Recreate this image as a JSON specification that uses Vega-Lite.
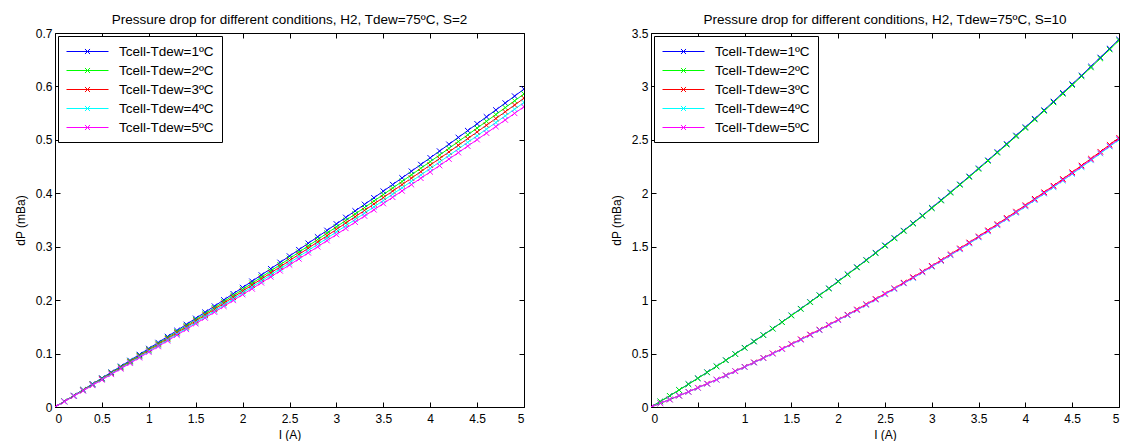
{
"$schema": "https://vega.github.io/schema/vega-lite/v6.json",
"padding": {"left": 13, "top": 12, "right": 0, "bottom": 0},
"spacing": 84,
"config": {
  "font": "Liberation Sans",
  "view": {"stroke": "#000", "strokeWidth": 1},
  "axis": {"grid": false, "domain": false, "tickColor": "#000", "tickSize": -5, "labelColor": "#000", "labelFontSize": 12, "labelPadding": 8, "titleFontSize": 12, "titleFontWeight": "normal", "titleColor": "#000", "format": "~g"},
  "title": {"fontSize": 13.5, "fontWeight": "normal", "color": "#000", "offset": 1},
  "legend": {"orient": "top-left", "offset": 3, "strokeColor": "#000", "fillColor": "#fff", "padding": 8, "labelFontSize": 13.5, "labelColor": "#000", "symbolType": "M-1,0L5,0M1.64,-0.36L2.36,0.36M1.64,0.36L2.36,-0.36", "symbolSize": 196, "symbolStrokeWidth": 1, "rowPadding": 5, "labelOffset": 38, "cornerRadius": 0}
},
"datasets": {
"left": [
{"s":"Tcell-Tdew=1ºC","I":0,"v":0},{"s":"Tcell-Tdew=1ºC","I":0.1,"v":0.0107},{"s":"Tcell-Tdew=1ºC","I":0.2,"v":0.0215},{"s":"Tcell-Tdew=1ºC","I":0.3,"v":0.0323},{"s":"Tcell-Tdew=1ºC","I":0.4,"v":0.0432},{"s":"Tcell-Tdew=1ºC","I":0.5,"v":0.0541},{"s":"Tcell-Tdew=1ºC","I":0.6,"v":0.0651},{"s":"Tcell-Tdew=1ºC","I":0.7,"v":0.0761},{"s":"Tcell-Tdew=1ºC","I":0.8,"v":0.0871},{"s":"Tcell-Tdew=1ºC","I":0.9,"v":0.0982},{"s":"Tcell-Tdew=1ºC","I":1,"v":0.1094},{"s":"Tcell-Tdew=1ºC","I":1.1,"v":0.1206},{"s":"Tcell-Tdew=1ºC","I":1.2,"v":0.1319},{"s":"Tcell-Tdew=1ºC","I":1.3,"v":0.1432},{"s":"Tcell-Tdew=1ºC","I":1.4,"v":0.1545},{"s":"Tcell-Tdew=1ºC","I":1.5,"v":0.1659},{"s":"Tcell-Tdew=1ºC","I":1.6,"v":0.1773},{"s":"Tcell-Tdew=1ºC","I":1.7,"v":0.1888},{"s":"Tcell-Tdew=1ºC","I":1.8,"v":0.2004},{"s":"Tcell-Tdew=1ºC","I":1.9,"v":0.212},{"s":"Tcell-Tdew=1ºC","I":2,"v":0.2236},{"s":"Tcell-Tdew=1ºC","I":2.1,"v":0.2353},{"s":"Tcell-Tdew=1ºC","I":2.2,"v":0.247},{"s":"Tcell-Tdew=1ºC","I":2.3,"v":0.2588},{"s":"Tcell-Tdew=1ºC","I":2.4,"v":0.2706},{"s":"Tcell-Tdew=1ºC","I":2.5,"v":0.2825},{"s":"Tcell-Tdew=1ºC","I":2.6,"v":0.2944},{"s":"Tcell-Tdew=1ºC","I":2.7,"v":0.3064},{"s":"Tcell-Tdew=1ºC","I":2.8,"v":0.3184},{"s":"Tcell-Tdew=1ºC","I":2.9,"v":0.3305},{"s":"Tcell-Tdew=1ºC","I":3,"v":0.3426},{"s":"Tcell-Tdew=1ºC","I":3.1,"v":0.3548},{"s":"Tcell-Tdew=1ºC","I":3.2,"v":0.367},{"s":"Tcell-Tdew=1ºC","I":3.3,"v":0.3792},{"s":"Tcell-Tdew=1ºC","I":3.4,"v":0.3915},{"s":"Tcell-Tdew=1ºC","I":3.5,"v":0.4039},{"s":"Tcell-Tdew=1ºC","I":3.6,"v":0.4163},{"s":"Tcell-Tdew=1ºC","I":3.7,"v":0.4288},{"s":"Tcell-Tdew=1ºC","I":3.8,"v":0.4413},{"s":"Tcell-Tdew=1ºC","I":3.9,"v":0.4538},{"s":"Tcell-Tdew=1ºC","I":4,"v":0.4664},{"s":"Tcell-Tdew=1ºC","I":4.1,"v":0.479},{"s":"Tcell-Tdew=1ºC","I":4.2,"v":0.4917},{"s":"Tcell-Tdew=1ºC","I":4.3,"v":0.5045},{"s":"Tcell-Tdew=1ºC","I":4.4,"v":0.5173},{"s":"Tcell-Tdew=1ºC","I":4.5,"v":0.5301},{"s":"Tcell-Tdew=1ºC","I":4.6,"v":0.543},{"s":"Tcell-Tdew=1ºC","I":4.7,"v":0.5559},{"s":"Tcell-Tdew=1ºC","I":4.8,"v":0.5689},{"s":"Tcell-Tdew=1ºC","I":4.9,"v":0.5819},{"s":"Tcell-Tdew=1ºC","I":5,"v":0.595},
{"s":"Tcell-Tdew=2ºC","I":0,"v":0},{"s":"Tcell-Tdew=2ºC","I":0.1,"v":0.0105},{"s":"Tcell-Tdew=2ºC","I":0.2,"v":0.0211},{"s":"Tcell-Tdew=2ºC","I":0.3,"v":0.0318},{"s":"Tcell-Tdew=2ºC","I":0.4,"v":0.0425},{"s":"Tcell-Tdew=2ºC","I":0.5,"v":0.0532},{"s":"Tcell-Tdew=2ºC","I":0.6,"v":0.064},{"s":"Tcell-Tdew=2ºC","I":0.7,"v":0.0748},{"s":"Tcell-Tdew=2ºC","I":0.8,"v":0.0857},{"s":"Tcell-Tdew=2ºC","I":0.9,"v":0.0966},{"s":"Tcell-Tdew=2ºC","I":1,"v":0.1076},{"s":"Tcell-Tdew=2ºC","I":1.1,"v":0.1186},{"s":"Tcell-Tdew=2ºC","I":1.2,"v":0.1297},{"s":"Tcell-Tdew=2ºC","I":1.3,"v":0.1409},{"s":"Tcell-Tdew=2ºC","I":1.4,"v":0.152},{"s":"Tcell-Tdew=2ºC","I":1.5,"v":0.1632},{"s":"Tcell-Tdew=2ºC","I":1.6,"v":0.1744},{"s":"Tcell-Tdew=2ºC","I":1.7,"v":0.1857},{"s":"Tcell-Tdew=2ºC","I":1.8,"v":0.1972},{"s":"Tcell-Tdew=2ºC","I":1.9,"v":0.2086},{"s":"Tcell-Tdew=2ºC","I":2,"v":0.22},{"s":"Tcell-Tdew=2ºC","I":2.1,"v":0.2315},{"s":"Tcell-Tdew=2ºC","I":2.2,"v":0.243},{"s":"Tcell-Tdew=2ºC","I":2.3,"v":0.2547},{"s":"Tcell-Tdew=2ºC","I":2.4,"v":0.2663},{"s":"Tcell-Tdew=2ºC","I":2.5,"v":0.278},{"s":"Tcell-Tdew=2ºC","I":2.6,"v":0.2897},{"s":"Tcell-Tdew=2ºC","I":2.7,"v":0.3015},{"s":"Tcell-Tdew=2ºC","I":2.8,"v":0.3134},{"s":"Tcell-Tdew=2ºC","I":2.9,"v":0.3253},{"s":"Tcell-Tdew=2ºC","I":3,"v":0.3372},{"s":"Tcell-Tdew=2ºC","I":3.1,"v":0.3492},{"s":"Tcell-Tdew=2ºC","I":3.2,"v":0.3612},{"s":"Tcell-Tdew=2ºC","I":3.3,"v":0.3733},{"s":"Tcell-Tdew=2ºC","I":3.4,"v":0.3854},{"s":"Tcell-Tdew=2ºC","I":3.5,"v":0.3976},{"s":"Tcell-Tdew=2ºC","I":3.6,"v":0.4098},{"s":"Tcell-Tdew=2ºC","I":3.7,"v":0.4221},{"s":"Tcell-Tdew=2ºC","I":3.8,"v":0.4345},{"s":"Tcell-Tdew=2ºC","I":3.9,"v":0.4468},{"s":"Tcell-Tdew=2ºC","I":4,"v":0.4592},{"s":"Tcell-Tdew=2ºC","I":4.1,"v":0.4716},{"s":"Tcell-Tdew=2ºC","I":4.2,"v":0.4841},{"s":"Tcell-Tdew=2ºC","I":4.3,"v":0.4968},{"s":"Tcell-Tdew=2ºC","I":4.4,"v":0.5094},{"s":"Tcell-Tdew=2ºC","I":4.5,"v":0.522},{"s":"Tcell-Tdew=2ºC","I":4.6,"v":0.5347},{"s":"Tcell-Tdew=2ºC","I":4.7,"v":0.5474},{"s":"Tcell-Tdew=2ºC","I":4.8,"v":0.5603},{"s":"Tcell-Tdew=2ºC","I":4.9,"v":0.5731},{"s":"Tcell-Tdew=2ºC","I":5,"v":0.586},
{"s":"Tcell-Tdew=3ºC","I":0,"v":0},{"s":"Tcell-Tdew=3ºC","I":0.1,"v":0.0104},{"s":"Tcell-Tdew=3ºC","I":0.2,"v":0.0208},{"s":"Tcell-Tdew=3ºC","I":0.3,"v":0.0313},{"s":"Tcell-Tdew=3ºC","I":0.4,"v":0.0418},{"s":"Tcell-Tdew=3ºC","I":0.5,"v":0.0524},{"s":"Tcell-Tdew=3ºC","I":0.6,"v":0.0631},{"s":"Tcell-Tdew=3ºC","I":0.7,"v":0.0737},{"s":"Tcell-Tdew=3ºC","I":0.8,"v":0.0844},{"s":"Tcell-Tdew=3ºC","I":0.9,"v":0.0951},{"s":"Tcell-Tdew=3ºC","I":1,"v":0.106},{"s":"Tcell-Tdew=3ºC","I":1.1,"v":0.1169},{"s":"Tcell-Tdew=3ºC","I":1.2,"v":0.1278},{"s":"Tcell-Tdew=3ºC","I":1.3,"v":0.1388},{"s":"Tcell-Tdew=3ºC","I":1.4,"v":0.1497},{"s":"Tcell-Tdew=3ºC","I":1.5,"v":0.1608},{"s":"Tcell-Tdew=3ºC","I":1.6,"v":0.1719},{"s":"Tcell-Tdew=3ºC","I":1.7,"v":0.183},{"s":"Tcell-Tdew=3ºC","I":1.8,"v":0.1943},{"s":"Tcell-Tdew=3ºC","I":1.9,"v":0.2055},{"s":"Tcell-Tdew=3ºC","I":2,"v":0.2168},{"s":"Tcell-Tdew=3ºC","I":2.1,"v":0.2282},{"s":"Tcell-Tdew=3ºC","I":2.2,"v":0.2395},{"s":"Tcell-Tdew=3ºC","I":2.3,"v":0.251},{"s":"Tcell-Tdew=3ºC","I":2.4,"v":0.2624},{"s":"Tcell-Tdew=3ºC","I":2.5,"v":0.274},{"s":"Tcell-Tdew=3ºC","I":2.6,"v":0.2856},{"s":"Tcell-Tdew=3ºC","I":2.7,"v":0.2972},{"s":"Tcell-Tdew=3ºC","I":2.8,"v":0.3089},{"s":"Tcell-Tdew=3ºC","I":2.9,"v":0.3206},{"s":"Tcell-Tdew=3ºC","I":3,"v":0.3324},{"s":"Tcell-Tdew=3ºC","I":3.1,"v":0.3443},{"s":"Tcell-Tdew=3ºC","I":3.2,"v":0.3561},{"s":"Tcell-Tdew=3ºC","I":3.3,"v":0.368},{"s":"Tcell-Tdew=3ºC","I":3.4,"v":0.3799},{"s":"Tcell-Tdew=3ºC","I":3.5,"v":0.392},{"s":"Tcell-Tdew=3ºC","I":3.6,"v":0.4041},{"s":"Tcell-Tdew=3ºC","I":3.7,"v":0.4162},{"s":"Tcell-Tdew=3ºC","I":3.8,"v":0.4284},{"s":"Tcell-Tdew=3ºC","I":3.9,"v":0.4405},{"s":"Tcell-Tdew=3ºC","I":4,"v":0.4528},{"s":"Tcell-Tdew=3ºC","I":4.1,"v":0.4651},{"s":"Tcell-Tdew=3ºC","I":4.2,"v":0.4774},{"s":"Tcell-Tdew=3ºC","I":4.3,"v":0.4899},{"s":"Tcell-Tdew=3ºC","I":4.4,"v":0.5023},{"s":"Tcell-Tdew=3ºC","I":4.5,"v":0.5148},{"s":"Tcell-Tdew=3ºC","I":4.6,"v":0.5274},{"s":"Tcell-Tdew=3ºC","I":4.7,"v":0.5399},{"s":"Tcell-Tdew=3ºC","I":4.8,"v":0.5526},{"s":"Tcell-Tdew=3ºC","I":4.9,"v":0.5652},{"s":"Tcell-Tdew=3ºC","I":5,"v":0.578},
{"s":"Tcell-Tdew=4ºC","I":0,"v":0},{"s":"Tcell-Tdew=4ºC","I":0.1,"v":0.0102},{"s":"Tcell-Tdew=4ºC","I":0.2,"v":0.0205},{"s":"Tcell-Tdew=4ºC","I":0.3,"v":0.0308},{"s":"Tcell-Tdew=4ºC","I":0.4,"v":0.0412},{"s":"Tcell-Tdew=4ºC","I":0.5,"v":0.0516},{"s":"Tcell-Tdew=4ºC","I":0.6,"v":0.0621},{"s":"Tcell-Tdew=4ºC","I":0.7,"v":0.0726},{"s":"Tcell-Tdew=4ºC","I":0.8,"v":0.0831},{"s":"Tcell-Tdew=4ºC","I":0.9,"v":0.0937},{"s":"Tcell-Tdew=4ºC","I":1,"v":0.1044},{"s":"Tcell-Tdew=4ºC","I":1.1,"v":0.1151},{"s":"Tcell-Tdew=4ºC","I":1.2,"v":0.1259},{"s":"Tcell-Tdew=4ºC","I":1.3,"v":0.1367},{"s":"Tcell-Tdew=4ºC","I":1.4,"v":0.1475},{"s":"Tcell-Tdew=4ºC","I":1.5,"v":0.1584},{"s":"Tcell-Tdew=4ºC","I":1.6,"v":0.1693},{"s":"Tcell-Tdew=4ºC","I":1.7,"v":0.1803},{"s":"Tcell-Tdew=4ºC","I":1.8,"v":0.1914},{"s":"Tcell-Tdew=4ºC","I":1.9,"v":0.2025},{"s":"Tcell-Tdew=4ºC","I":2,"v":0.2136},{"s":"Tcell-Tdew=4ºC","I":2.1,"v":0.2248},{"s":"Tcell-Tdew=4ºC","I":2.2,"v":0.236},{"s":"Tcell-Tdew=4ºC","I":2.3,"v":0.2473},{"s":"Tcell-Tdew=4ºC","I":2.4,"v":0.2586},{"s":"Tcell-Tdew=4ºC","I":2.5,"v":0.27},{"s":"Tcell-Tdew=4ºC","I":2.6,"v":0.2814},{"s":"Tcell-Tdew=4ºC","I":2.7,"v":0.2929},{"s":"Tcell-Tdew=4ºC","I":2.8,"v":0.3044},{"s":"Tcell-Tdew=4ºC","I":2.9,"v":0.316},{"s":"Tcell-Tdew=4ºC","I":3,"v":0.3276},{"s":"Tcell-Tdew=4ºC","I":3.1,"v":0.3393},{"s":"Tcell-Tdew=4ºC","I":3.2,"v":0.351},{"s":"Tcell-Tdew=4ºC","I":3.3,"v":0.3627},{"s":"Tcell-Tdew=4ºC","I":3.4,"v":0.3745},{"s":"Tcell-Tdew=4ºC","I":3.5,"v":0.3864},{"s":"Tcell-Tdew=4ºC","I":3.6,"v":0.3983},{"s":"Tcell-Tdew=4ºC","I":3.7,"v":0.4103},{"s":"Tcell-Tdew=4ºC","I":3.8,"v":0.4223},{"s":"Tcell-Tdew=4ºC","I":3.9,"v":0.4343},{"s":"Tcell-Tdew=4ºC","I":4,"v":0.4464},{"s":"Tcell-Tdew=4ºC","I":4.1,"v":0.4585},{"s":"Tcell-Tdew=4ºC","I":4.2,"v":0.4707},{"s":"Tcell-Tdew=4ºC","I":4.3,"v":0.483},{"s":"Tcell-Tdew=4ºC","I":4.4,"v":0.4953},{"s":"Tcell-Tdew=4ºC","I":4.5,"v":0.5076},{"s":"Tcell-Tdew=4ºC","I":4.6,"v":0.52},{"s":"Tcell-Tdew=4ºC","I":4.7,"v":0.5324},{"s":"Tcell-Tdew=4ºC","I":4.8,"v":0.5449},{"s":"Tcell-Tdew=4ºC","I":4.9,"v":0.5574},{"s":"Tcell-Tdew=4ºC","I":5,"v":0.57},
{"s":"Tcell-Tdew=5ºC","I":0,"v":0},{"s":"Tcell-Tdew=5ºC","I":0.1,"v":0.01},{"s":"Tcell-Tdew=5ºC","I":0.2,"v":0.0202},{"s":"Tcell-Tdew=5ºC","I":0.3,"v":0.0303},{"s":"Tcell-Tdew=5ºC","I":0.4,"v":0.0406},{"s":"Tcell-Tdew=5ºC","I":0.5,"v":0.0508},{"s":"Tcell-Tdew=5ºC","I":0.6,"v":0.0611},{"s":"Tcell-Tdew=5ºC","I":0.7,"v":0.0715},{"s":"Tcell-Tdew=5ºC","I":0.8,"v":0.0818},{"s":"Tcell-Tdew=5ºC","I":0.9,"v":0.0923},{"s":"Tcell-Tdew=5ºC","I":1,"v":0.1028},{"s":"Tcell-Tdew=5ºC","I":1.1,"v":0.1133},{"s":"Tcell-Tdew=5ºC","I":1.2,"v":0.124},{"s":"Tcell-Tdew=5ºC","I":1.3,"v":0.1346},{"s":"Tcell-Tdew=5ºC","I":1.4,"v":0.1453},{"s":"Tcell-Tdew=5ºC","I":1.5,"v":0.156},{"s":"Tcell-Tdew=5ºC","I":1.6,"v":0.1667},{"s":"Tcell-Tdew=5ºC","I":1.7,"v":0.1776},{"s":"Tcell-Tdew=5ºC","I":1.8,"v":0.1885},{"s":"Tcell-Tdew=5ºC","I":1.9,"v":0.1995},{"s":"Tcell-Tdew=5ºC","I":2,"v":0.2104},{"s":"Tcell-Tdew=5ºC","I":2.1,"v":0.2214},{"s":"Tcell-Tdew=5ºC","I":2.2,"v":0.2325},{"s":"Tcell-Tdew=5ºC","I":2.3,"v":0.2436},{"s":"Tcell-Tdew=5ºC","I":2.4,"v":0.2548},{"s":"Tcell-Tdew=5ºC","I":2.5,"v":0.266},{"s":"Tcell-Tdew=5ºC","I":2.6,"v":0.2772},{"s":"Tcell-Tdew=5ºC","I":2.7,"v":0.2886},{"s":"Tcell-Tdew=5ºC","I":2.8,"v":0.2999},{"s":"Tcell-Tdew=5ºC","I":2.9,"v":0.3114},{"s":"Tcell-Tdew=5ºC","I":3,"v":0.3228},{"s":"Tcell-Tdew=5ºC","I":3.1,"v":0.3343},{"s":"Tcell-Tdew=5ºC","I":3.2,"v":0.3459},{"s":"Tcell-Tdew=5ºC","I":3.3,"v":0.3574},{"s":"Tcell-Tdew=5ºC","I":3.4,"v":0.3691},{"s":"Tcell-Tdew=5ºC","I":3.5,"v":0.3808},{"s":"Tcell-Tdew=5ºC","I":3.6,"v":0.3925},{"s":"Tcell-Tdew=5ºC","I":3.7,"v":0.4044},{"s":"Tcell-Tdew=5ºC","I":3.8,"v":0.4162},{"s":"Tcell-Tdew=5ºC","I":3.9,"v":0.4281},{"s":"Tcell-Tdew=5ºC","I":4,"v":0.44},{"s":"Tcell-Tdew=5ºC","I":4.1,"v":0.4519},{"s":"Tcell-Tdew=5ºC","I":4.2,"v":0.464},{"s":"Tcell-Tdew=5ºC","I":4.3,"v":0.4761},{"s":"Tcell-Tdew=5ºC","I":4.4,"v":0.4883},{"s":"Tcell-Tdew=5ºC","I":4.5,"v":0.5004},{"s":"Tcell-Tdew=5ºC","I":4.6,"v":0.5126},{"s":"Tcell-Tdew=5ºC","I":4.7,"v":0.5249},{"s":"Tcell-Tdew=5ºC","I":4.8,"v":0.5372},{"s":"Tcell-Tdew=5ºC","I":4.9,"v":0.5496},{"s":"Tcell-Tdew=5ºC","I":5,"v":0.562}
],
"right": [
{"s":"Tcell-Tdew=1ºC","I":0,"v":0},{"s":"Tcell-Tdew=1ºC","I":0.1,"v":0.052},{"s":"Tcell-Tdew=1ºC","I":0.2,"v":0.105},{"s":"Tcell-Tdew=1ºC","I":0.3,"v":0.159},{"s":"Tcell-Tdew=1ºC","I":0.4,"v":0.214},{"s":"Tcell-Tdew=1ºC","I":0.5,"v":0.269},{"s":"Tcell-Tdew=1ºC","I":0.6,"v":0.325},{"s":"Tcell-Tdew=1ºC","I":0.7,"v":0.381},{"s":"Tcell-Tdew=1ºC","I":0.8,"v":0.438},{"s":"Tcell-Tdew=1ºC","I":0.9,"v":0.496},{"s":"Tcell-Tdew=1ºC","I":1,"v":0.555},{"s":"Tcell-Tdew=1ºC","I":1.1,"v":0.614},{"s":"Tcell-Tdew=1ºC","I":1.2,"v":0.674},{"s":"Tcell-Tdew=1ºC","I":1.3,"v":0.734},{"s":"Tcell-Tdew=1ºC","I":1.4,"v":0.795},{"s":"Tcell-Tdew=1ºC","I":1.5,"v":0.858},{"s":"Tcell-Tdew=1ºC","I":1.6,"v":0.92},{"s":"Tcell-Tdew=1ºC","I":1.7,"v":0.983},{"s":"Tcell-Tdew=1ºC","I":1.8,"v":1.047},{"s":"Tcell-Tdew=1ºC","I":1.9,"v":1.111},{"s":"Tcell-Tdew=1ºC","I":2,"v":1.177},{"s":"Tcell-Tdew=1ºC","I":2.1,"v":1.243},{"s":"Tcell-Tdew=1ºC","I":2.2,"v":1.309},{"s":"Tcell-Tdew=1ºC","I":2.3,"v":1.376},{"s":"Tcell-Tdew=1ºC","I":2.4,"v":1.443},{"s":"Tcell-Tdew=1ºC","I":2.5,"v":1.513},{"s":"Tcell-Tdew=1ºC","I":2.6,"v":1.582},{"s":"Tcell-Tdew=1ºC","I":2.7,"v":1.651},{"s":"Tcell-Tdew=1ºC","I":2.8,"v":1.721},{"s":"Tcell-Tdew=1ºC","I":2.9,"v":1.792},{"s":"Tcell-Tdew=1ºC","I":3,"v":1.865},{"s":"Tcell-Tdew=1ºC","I":3.1,"v":1.937},{"s":"Tcell-Tdew=1ºC","I":3.2,"v":2.01},{"s":"Tcell-Tdew=1ºC","I":3.3,"v":2.084},{"s":"Tcell-Tdew=1ºC","I":3.4,"v":2.158},{"s":"Tcell-Tdew=1ºC","I":3.5,"v":2.234},{"s":"Tcell-Tdew=1ºC","I":3.6,"v":2.309},{"s":"Tcell-Tdew=1ºC","I":3.7,"v":2.386},{"s":"Tcell-Tdew=1ºC","I":3.8,"v":2.462},{"s":"Tcell-Tdew=1ºC","I":3.9,"v":2.541},{"s":"Tcell-Tdew=1ºC","I":4,"v":2.619},{"s":"Tcell-Tdew=1ºC","I":4.1,"v":2.698},{"s":"Tcell-Tdew=1ºC","I":4.2,"v":2.778},{"s":"Tcell-Tdew=1ºC","I":4.3,"v":2.859},{"s":"Tcell-Tdew=1ºC","I":4.4,"v":2.94},{"s":"Tcell-Tdew=1ºC","I":4.5,"v":3.021},{"s":"Tcell-Tdew=1ºC","I":4.6,"v":3.103},{"s":"Tcell-Tdew=1ºC","I":4.7,"v":3.187},{"s":"Tcell-Tdew=1ºC","I":4.8,"v":3.271},{"s":"Tcell-Tdew=1ºC","I":4.9,"v":3.355},{"s":"Tcell-Tdew=1ºC","I":5,"v":3.44},
{"s":"Tcell-Tdew=2ºC","I":0,"v":0},{"s":"Tcell-Tdew=2ºC","I":0.1,"v":0.052},{"s":"Tcell-Tdew=2ºC","I":0.2,"v":0.105},{"s":"Tcell-Tdew=2ºC","I":0.3,"v":0.159},{"s":"Tcell-Tdew=2ºC","I":0.4,"v":0.213},{"s":"Tcell-Tdew=2ºC","I":0.5,"v":0.268},{"s":"Tcell-Tdew=2ºC","I":0.6,"v":0.324},{"s":"Tcell-Tdew=2ºC","I":0.7,"v":0.38},{"s":"Tcell-Tdew=2ºC","I":0.8,"v":0.437},{"s":"Tcell-Tdew=2ºC","I":0.9,"v":0.495},{"s":"Tcell-Tdew=2ºC","I":1,"v":0.553},{"s":"Tcell-Tdew=2ºC","I":1.1,"v":0.612},{"s":"Tcell-Tdew=2ºC","I":1.2,"v":0.672},{"s":"Tcell-Tdew=2ºC","I":1.3,"v":0.732},{"s":"Tcell-Tdew=2ºC","I":1.4,"v":0.793},{"s":"Tcell-Tdew=2ºC","I":1.5,"v":0.855},{"s":"Tcell-Tdew=2ºC","I":1.6,"v":0.917},{"s":"Tcell-Tdew=2ºC","I":1.7,"v":0.98},{"s":"Tcell-Tdew=2ºC","I":1.8,"v":1.044},{"s":"Tcell-Tdew=2ºC","I":1.9,"v":1.108},{"s":"Tcell-Tdew=2ºC","I":2,"v":1.173},{"s":"Tcell-Tdew=2ºC","I":2.1,"v":1.239},{"s":"Tcell-Tdew=2ºC","I":2.2,"v":1.305},{"s":"Tcell-Tdew=2ºC","I":2.3,"v":1.372},{"s":"Tcell-Tdew=2ºC","I":2.4,"v":1.439},{"s":"Tcell-Tdew=2ºC","I":2.5,"v":1.508},{"s":"Tcell-Tdew=2ºC","I":2.6,"v":1.577},{"s":"Tcell-Tdew=2ºC","I":2.7,"v":1.646},{"s":"Tcell-Tdew=2ºC","I":2.8,"v":1.716},{"s":"Tcell-Tdew=2ºC","I":2.9,"v":1.787},{"s":"Tcell-Tdew=2ºC","I":3,"v":1.859},{"s":"Tcell-Tdew=2ºC","I":3.1,"v":1.931},{"s":"Tcell-Tdew=2ºC","I":3.2,"v":2.004},{"s":"Tcell-Tdew=2ºC","I":3.3,"v":2.078},{"s":"Tcell-Tdew=2ºC","I":3.4,"v":2.152},{"s":"Tcell-Tdew=2ºC","I":3.5,"v":2.227},{"s":"Tcell-Tdew=2ºC","I":3.6,"v":2.302},{"s":"Tcell-Tdew=2ºC","I":3.7,"v":2.379},{"s":"Tcell-Tdew=2ºC","I":3.8,"v":2.455},{"s":"Tcell-Tdew=2ºC","I":3.9,"v":2.533},{"s":"Tcell-Tdew=2ºC","I":4,"v":2.611},{"s":"Tcell-Tdew=2ºC","I":4.1,"v":2.69},{"s":"Tcell-Tdew=2ºC","I":4.2,"v":2.77},{"s":"Tcell-Tdew=2ºC","I":4.3,"v":2.85},{"s":"Tcell-Tdew=2ºC","I":4.4,"v":2.931},{"s":"Tcell-Tdew=2ºC","I":4.5,"v":3.012},{"s":"Tcell-Tdew=2ºC","I":4.6,"v":3.094},{"s":"Tcell-Tdew=2ºC","I":4.7,"v":3.177},{"s":"Tcell-Tdew=2ºC","I":4.8,"v":3.261},{"s":"Tcell-Tdew=2ºC","I":4.9,"v":3.345},{"s":"Tcell-Tdew=2ºC","I":5,"v":3.43},
{"s":"Tcell-Tdew=3ºC","I":0,"v":0},{"s":"Tcell-Tdew=3ºC","I":0.1,"v":0.035},{"s":"Tcell-Tdew=3ºC","I":0.2,"v":0.07},{"s":"Tcell-Tdew=3ºC","I":0.3,"v":0.106},{"s":"Tcell-Tdew=3ºC","I":0.4,"v":0.143},{"s":"Tcell-Tdew=3ºC","I":0.5,"v":0.181},{"s":"Tcell-Tdew=3ºC","I":0.6,"v":0.219},{"s":"Tcell-Tdew=3ºC","I":0.7,"v":0.257},{"s":"Tcell-Tdew=3ºC","I":0.8,"v":0.296},{"s":"Tcell-Tdew=3ºC","I":0.9,"v":0.336},{"s":"Tcell-Tdew=3ºC","I":1,"v":0.377},{"s":"Tcell-Tdew=3ºC","I":1.1,"v":0.418},{"s":"Tcell-Tdew=3ºC","I":1.2,"v":0.46},{"s":"Tcell-Tdew=3ºC","I":1.3,"v":0.502},{"s":"Tcell-Tdew=3ºC","I":1.4,"v":0.545},{"s":"Tcell-Tdew=3ºC","I":1.5,"v":0.589},{"s":"Tcell-Tdew=3ºC","I":1.6,"v":0.634},{"s":"Tcell-Tdew=3ºC","I":1.7,"v":0.679},{"s":"Tcell-Tdew=3ºC","I":1.8,"v":0.724},{"s":"Tcell-Tdew=3ºC","I":1.9,"v":0.77},{"s":"Tcell-Tdew=3ºC","I":2,"v":0.817},{"s":"Tcell-Tdew=3ºC","I":2.1,"v":0.864},{"s":"Tcell-Tdew=3ºC","I":2.2,"v":0.913},{"s":"Tcell-Tdew=3ºC","I":2.3,"v":0.962},{"s":"Tcell-Tdew=3ºC","I":2.4,"v":1.011},{"s":"Tcell-Tdew=3ºC","I":2.5,"v":1.061},{"s":"Tcell-Tdew=3ºC","I":2.6,"v":1.111},{"s":"Tcell-Tdew=3ºC","I":2.7,"v":1.164},{"s":"Tcell-Tdew=3ºC","I":2.8,"v":1.215},{"s":"Tcell-Tdew=3ºC","I":2.9,"v":1.268},{"s":"Tcell-Tdew=3ºC","I":3,"v":1.321},{"s":"Tcell-Tdew=3ºC","I":3.1,"v":1.374},{"s":"Tcell-Tdew=3ºC","I":3.2,"v":1.43},{"s":"Tcell-Tdew=3ºC","I":3.3,"v":1.485},{"s":"Tcell-Tdew=3ºC","I":3.4,"v":1.54},{"s":"Tcell-Tdew=3ºC","I":3.5,"v":1.597},{"s":"Tcell-Tdew=3ºC","I":3.6,"v":1.654},{"s":"Tcell-Tdew=3ºC","I":3.7,"v":1.712},{"s":"Tcell-Tdew=3ºC","I":3.8,"v":1.77},{"s":"Tcell-Tdew=3ºC","I":3.9,"v":1.829},{"s":"Tcell-Tdew=3ºC","I":4,"v":1.889},{"s":"Tcell-Tdew=3ºC","I":4.1,"v":1.949},{"s":"Tcell-Tdew=3ºC","I":4.2,"v":2.01},{"s":"Tcell-Tdew=3ºC","I":4.3,"v":2.071},{"s":"Tcell-Tdew=3ºC","I":4.4,"v":2.134},{"s":"Tcell-Tdew=3ºC","I":4.5,"v":2.197},{"s":"Tcell-Tdew=3ºC","I":4.6,"v":2.26},{"s":"Tcell-Tdew=3ºC","I":4.7,"v":2.324},{"s":"Tcell-Tdew=3ºC","I":4.8,"v":2.389},{"s":"Tcell-Tdew=3ºC","I":4.9,"v":2.454},{"s":"Tcell-Tdew=3ºC","I":5,"v":2.52},
{"s":"Tcell-Tdew=4ºC","I":0,"v":0},{"s":"Tcell-Tdew=4ºC","I":0.1,"v":0.035},{"s":"Tcell-Tdew=4ºC","I":0.2,"v":0.07},{"s":"Tcell-Tdew=4ºC","I":0.3,"v":0.106},{"s":"Tcell-Tdew=4ºC","I":0.4,"v":0.142},{"s":"Tcell-Tdew=4ºC","I":0.5,"v":0.179},{"s":"Tcell-Tdew=4ºC","I":0.6,"v":0.217},{"s":"Tcell-Tdew=4ºC","I":0.7,"v":0.255},{"s":"Tcell-Tdew=4ºC","I":0.8,"v":0.294},{"s":"Tcell-Tdew=4ºC","I":0.9,"v":0.334},{"s":"Tcell-Tdew=4ºC","I":1,"v":0.374},{"s":"Tcell-Tdew=4ºC","I":1.1,"v":0.415},{"s":"Tcell-Tdew=4ºC","I":1.2,"v":0.457},{"s":"Tcell-Tdew=4ºC","I":1.3,"v":0.499},{"s":"Tcell-Tdew=4ºC","I":1.4,"v":0.541},{"s":"Tcell-Tdew=4ºC","I":1.5,"v":0.585},{"s":"Tcell-Tdew=4ºC","I":1.6,"v":0.629},{"s":"Tcell-Tdew=4ºC","I":1.7,"v":0.674},{"s":"Tcell-Tdew=4ºC","I":1.8,"v":0.719},{"s":"Tcell-Tdew=4ºC","I":1.9,"v":0.765},{"s":"Tcell-Tdew=4ºC","I":2,"v":0.812},{"s":"Tcell-Tdew=4ºC","I":2.1,"v":0.858},{"s":"Tcell-Tdew=4ºC","I":2.2,"v":0.906},{"s":"Tcell-Tdew=4ºC","I":2.3,"v":0.955},{"s":"Tcell-Tdew=4ºC","I":2.4,"v":1.004},{"s":"Tcell-Tdew=4ºC","I":2.5,"v":1.054},{"s":"Tcell-Tdew=4ºC","I":2.6,"v":1.104},{"s":"Tcell-Tdew=4ºC","I":2.7,"v":1.156},{"s":"Tcell-Tdew=4ºC","I":2.8,"v":1.206},{"s":"Tcell-Tdew=4ºC","I":2.9,"v":1.259},{"s":"Tcell-Tdew=4ºC","I":3,"v":1.312},{"s":"Tcell-Tdew=4ºC","I":3.1,"v":1.365},{"s":"Tcell-Tdew=4ºC","I":3.2,"v":1.42},{"s":"Tcell-Tdew=4ºC","I":3.3,"v":1.475},{"s":"Tcell-Tdew=4ºC","I":3.4,"v":1.529},{"s":"Tcell-Tdew=4ºC","I":3.5,"v":1.586},{"s":"Tcell-Tdew=4ºC","I":3.6,"v":1.642},{"s":"Tcell-Tdew=4ºC","I":3.7,"v":1.7},{"s":"Tcell-Tdew=4ºC","I":3.8,"v":1.758},{"s":"Tcell-Tdew=4ºC","I":3.9,"v":1.817},{"s":"Tcell-Tdew=4ºC","I":4,"v":1.875},{"s":"Tcell-Tdew=4ºC","I":4.1,"v":1.935},{"s":"Tcell-Tdew=4ºC","I":4.2,"v":1.996},{"s":"Tcell-Tdew=4ºC","I":4.3,"v":2.057},{"s":"Tcell-Tdew=4ºC","I":4.4,"v":2.119},{"s":"Tcell-Tdew=4ºC","I":4.5,"v":2.181},{"s":"Tcell-Tdew=4ºC","I":4.6,"v":2.244},{"s":"Tcell-Tdew=4ºC","I":4.7,"v":2.308},{"s":"Tcell-Tdew=4ºC","I":4.8,"v":2.372},{"s":"Tcell-Tdew=4ºC","I":4.9,"v":2.437},{"s":"Tcell-Tdew=4ºC","I":5,"v":2.502},
{"s":"Tcell-Tdew=5ºC","I":0,"v":0},{"s":"Tcell-Tdew=5ºC","I":0.1,"v":0.035},{"s":"Tcell-Tdew=5ºC","I":0.2,"v":0.07},{"s":"Tcell-Tdew=5ºC","I":0.3,"v":0.106},{"s":"Tcell-Tdew=5ºC","I":0.4,"v":0.142},{"s":"Tcell-Tdew=5ºC","I":0.5,"v":0.18},{"s":"Tcell-Tdew=5ºC","I":0.6,"v":0.218},{"s":"Tcell-Tdew=5ºC","I":0.7,"v":0.256},{"s":"Tcell-Tdew=5ºC","I":0.8,"v":0.295},{"s":"Tcell-Tdew=5ºC","I":0.9,"v":0.335},{"s":"Tcell-Tdew=5ºC","I":1,"v":0.375},{"s":"Tcell-Tdew=5ºC","I":1.1,"v":0.416},{"s":"Tcell-Tdew=5ºC","I":1.2,"v":0.458},{"s":"Tcell-Tdew=5ºC","I":1.3,"v":0.5},{"s":"Tcell-Tdew=5ºC","I":1.4,"v":0.543},{"s":"Tcell-Tdew=5ºC","I":1.5,"v":0.587},{"s":"Tcell-Tdew=5ºC","I":1.6,"v":0.631},{"s":"Tcell-Tdew=5ºC","I":1.7,"v":0.676},{"s":"Tcell-Tdew=5ºC","I":1.8,"v":0.721},{"s":"Tcell-Tdew=5ºC","I":1.9,"v":0.767},{"s":"Tcell-Tdew=5ºC","I":2,"v":0.814},{"s":"Tcell-Tdew=5ºC","I":2.1,"v":0.861},{"s":"Tcell-Tdew=5ºC","I":2.2,"v":0.909},{"s":"Tcell-Tdew=5ºC","I":2.3,"v":0.958},{"s":"Tcell-Tdew=5ºC","I":2.4,"v":1.007},{"s":"Tcell-Tdew=5ºC","I":2.5,"v":1.057},{"s":"Tcell-Tdew=5ºC","I":2.6,"v":1.107},{"s":"Tcell-Tdew=5ºC","I":2.7,"v":1.159},{"s":"Tcell-Tdew=5ºC","I":2.8,"v":1.21},{"s":"Tcell-Tdew=5ºC","I":2.9,"v":1.263},{"s":"Tcell-Tdew=5ºC","I":3,"v":1.316},{"s":"Tcell-Tdew=5ºC","I":3.1,"v":1.369},{"s":"Tcell-Tdew=5ºC","I":3.2,"v":1.424},{"s":"Tcell-Tdew=5ºC","I":3.3,"v":1.479},{"s":"Tcell-Tdew=5ºC","I":3.4,"v":1.534},{"s":"Tcell-Tdew=5ºC","I":3.5,"v":1.591},{"s":"Tcell-Tdew=5ºC","I":3.6,"v":1.647},{"s":"Tcell-Tdew=5ºC","I":3.7,"v":1.705},{"s":"Tcell-Tdew=5ºC","I":3.8,"v":1.763},{"s":"Tcell-Tdew=5ºC","I":3.9,"v":1.822},{"s":"Tcell-Tdew=5ºC","I":4,"v":1.881},{"s":"Tcell-Tdew=5ºC","I":4.1,"v":1.941},{"s":"Tcell-Tdew=5ºC","I":4.2,"v":2.002},{"s":"Tcell-Tdew=5ºC","I":4.3,"v":2.063},{"s":"Tcell-Tdew=5ºC","I":4.4,"v":2.125},{"s":"Tcell-Tdew=5ºC","I":4.5,"v":2.188},{"s":"Tcell-Tdew=5ºC","I":4.6,"v":2.251},{"s":"Tcell-Tdew=5ºC","I":4.7,"v":2.315},{"s":"Tcell-Tdew=5ºC","I":4.8,"v":2.379},{"s":"Tcell-Tdew=5ºC","I":4.9,"v":2.444},{"s":"Tcell-Tdew=5ºC","I":5,"v":2.51}
]
},
"hconcat": [
{
  "width": 469, "height": 374,
  "title": {"text": "Pressure drop for different conditions, H2, Tdew=75ºC, S=2"},
  "data": {"name": "left"},
  "layer": [
    {"mark": {"type": "line", "strokeWidth": 1, "clip": true},
     "encoding": {
       "x": {"field": "I", "type": "quantitative", "scale": {"domain": [0, 5], "nice": false}, "axis": {"title": "I (A)", "values": [0,0.5,1,1.5,2,2.5,3,3.5,4,4.5,5], "labelPadding": 11, "titlePadding": 5}},
       "y": {"field": "v", "type": "quantitative", "scale": {"domain": [0, 0.7], "nice": false}, "axis": {"title": "dP (mBa)", "values": [0,0.1,0.2,0.3,0.4,0.5,0.6,0.7], "titlePadding": 8}},
       "color": {"field": "s", "type": "nominal", "scale": {"domain": ["Tcell-Tdew=1ºC","Tcell-Tdew=2ºC","Tcell-Tdew=3ºC","Tcell-Tdew=4ºC","Tcell-Tdew=5ºC"], "range": ["#0000ff","#00ff00","#ff0000","#00ffff","#ff00ff"]}, "legend": {"title": null}}
     }},
    {"mark": {"type": "point", "shape": "M-1,-1L1,1M-1,1L1,-1", "size": 30, "strokeWidth": 1, "filled": false, "opacity": 1, "clip": true},
     "encoding": {
       "x": {"field": "I", "type": "quantitative", "axis": {"orient": "top", "labels": false, "title": null, "values": [0,0.5,1,1.5,2,2.5,3,3.5,4,4.5,5]}},
       "y": {"field": "v", "type": "quantitative", "axis": {"orient": "right", "labels": false, "title": null, "values": [0,0.1,0.2,0.3,0.4,0.5,0.6,0.7]}},
       "color": {"field": "s", "type": "nominal", "legend": null}
     }}
  ],
  "resolve": {"axis": {"x": "independent", "y": "independent"}}
},
{
  "width": 468, "height": 374,
  "title": {"text": "Pressure drop for different conditions, H2, Tdew=75ºC, S=10"},
  "data": {"name": "right"},
  "layer": [
    {"mark": {"type": "line", "strokeWidth": 1, "clip": true},
     "encoding": {
       "x": {"field": "I", "type": "quantitative", "scale": {"domain": [0, 5], "nice": false}, "axis": {"title": "I (A)", "values": [0,0.5,1,1.5,2,2.5,3,3.5,4,4.5,5], "labelPadding": 11, "titlePadding": 5, "labelExpr": "datum.value == 0.5 ? '' : datum.label"}},
       "y": {"field": "v", "type": "quantitative", "scale": {"domain": [0, 3.5], "nice": false}, "axis": {"title": "dP (mBa)", "values": [0,0.5,1,1.5,2,2.5,3,3.5], "titlePadding": 8}},
       "color": {"field": "s", "type": "nominal", "scale": {"domain": ["Tcell-Tdew=1ºC","Tcell-Tdew=2ºC","Tcell-Tdew=3ºC","Tcell-Tdew=4ºC","Tcell-Tdew=5ºC"], "range": ["#0000ff","#00ff00","#ff0000","#00ffff","#ff00ff"]}, "legend": {"title": null}}
     }},
    {"mark": {"type": "point", "shape": "M-1,-1L1,1M-1,1L1,-1", "size": 30, "strokeWidth": 1, "filled": false, "opacity": 1, "clip": true},
     "encoding": {
       "x": {"field": "I", "type": "quantitative", "axis": {"orient": "top", "labels": false, "title": null, "values": [0,0.5,1,1.5,2,2.5,3,3.5,4,4.5,5]}},
       "y": {"field": "v", "type": "quantitative", "axis": {"orient": "right", "labels": false, "title": null, "values": [0,0.5,1,1.5,2,2.5,3,3.5]}},
       "color": {"field": "s", "type": "nominal", "legend": null}
     }}
  ],
  "resolve": {"axis": {"x": "independent", "y": "independent"}}
}
],
"resolve": {"scale": {"color": "independent"}}
}
